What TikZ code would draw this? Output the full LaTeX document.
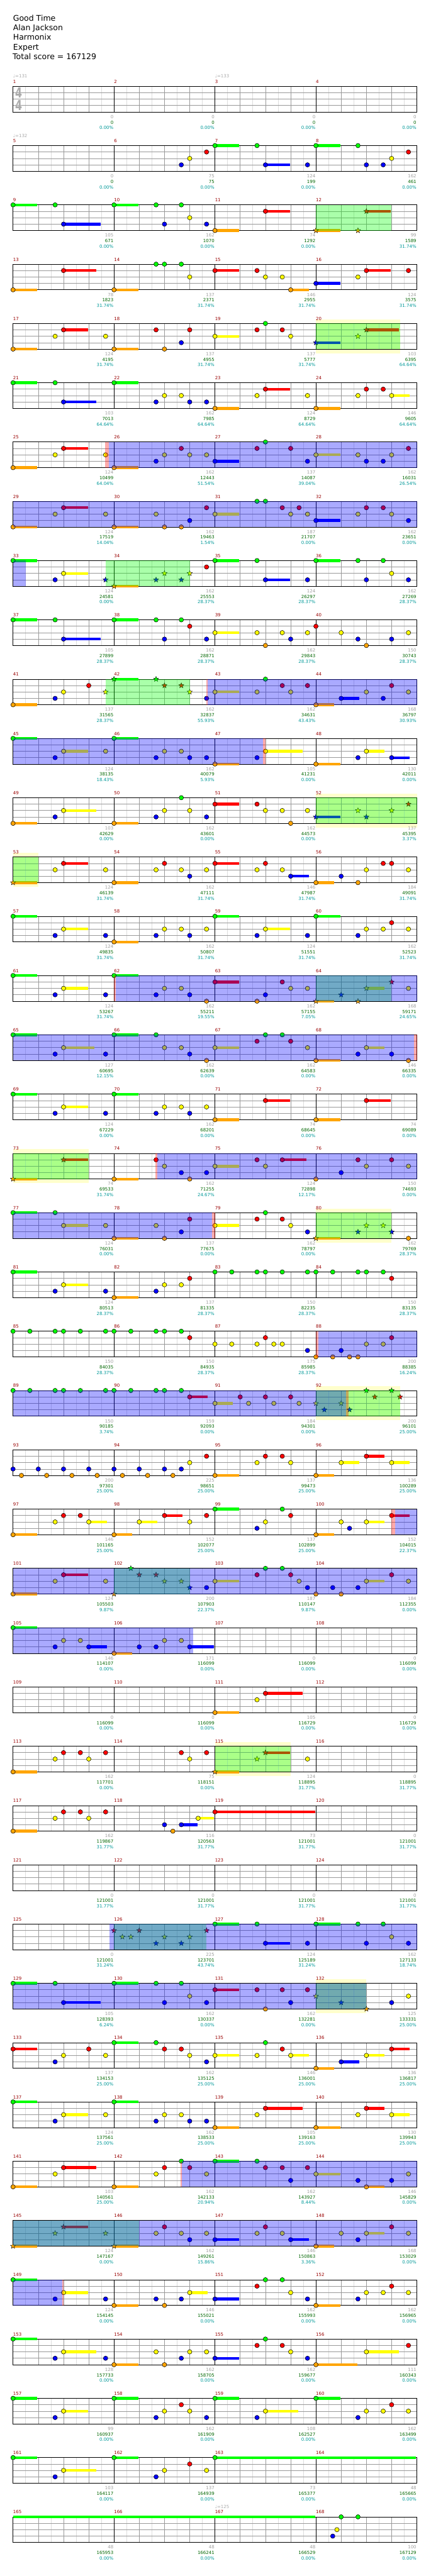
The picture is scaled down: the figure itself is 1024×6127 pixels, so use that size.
\documentclass[tikz,border=0pt]{standalone}
\usepackage{fontspec}
\usepackage{graphicx}
\setmainfont{DejaVu Sans}
\usetikzlibrary{shapes.geometric}

\definecolor{nG}{RGB}{0,255,0}
\definecolor{nR}{RGB}{255,0,0}
\definecolor{nY}{RGB}{255,255,0}
\definecolor{nB}{RGB}{0,0,255}
\definecolor{nO}{RGB}{255,165,0}
\definecolor{cMnum}{RGB}{153,0,0}
\definecolor{cCnt}{RGB}{160,160,160}
\definecolor{cScr}{RGB}{0,102,0}
\definecolor{cPct}{RGB}{0,153,153}
\definecolor{cGrid}{RGB}{153,153,153}
\definecolor{cSub}{RGB}{221,221,221}
\definecolor{cBand}{RGB}{255,255,204}

\def\laneG{0}\def\laneR{1}\def\laneY{2}\def\laneB{3}\def\laneO{4}

% measure #1, lane #2, beat #3 -> \px,\py
\newcommand\lanepos[3]{%
  \pgfmathtruncatemacro\rr{(#1-1)/4}%
  \pgfmathsetmacro\px{31+240*(#1-1-4*\rr)+60*#3}%
  \pgfmathsetmacro\py{205.3+141*\rr+15.25*\csname lane#2\endcsname}}
\newcommand\gnotes[2]{\foreach \nl/\nb/\ns in {#2}{\lanepos{#1}{\nl}{\nb}%
  \ifdim\ns pt>0pt \draw[sus,n\nl] (\px,\py) -- ++({60*\ns-2},0);\fi
  \draw[nh,fill=n\nl] (\px,\py) circle (5.3pt);}}
\newcommand\gstars[2]{\foreach \nl/\nb/\ns in {#2}{\lanepos{#1}{\nl}{\nb}%
  \ifdim\ns pt>0pt \draw[sus,n\nl] (\px,\py) -- ++({60*\ns-2},0);\fi
  \node[sp star,fill=n\nl] at (\px,\py) {};}}
\newcommand\susonly[4]{\lanepos{#1}{#2}{#3}%
  \draw[sus,n#2] (\px,\py) -- ++({60*#4-2},0);}
% row #1, beats #2 to #3 of the row, style #4
\newcommand\rowbox[4]{\pgfmathsetmacro\py{205.3+141*(#1-1)}%
  \fill[#4] ({31+60*#2},\py) rectangle ({31+60*#3},{\py+61});}
\newcommand\yband[3]{\pgfmathsetmacro\py{205.3+141*(#1-1)}%
  \fill[cBand] ({31+60*#2},{\py-10}) rectangle ({31+60*#3},{\py+71});}

\begin{document}
\begin{tikzpicture}[
    x=1pt, y=-1pt,
    nh/.style={draw=black, line width=0.8pt},
    sus/.style={line width=6.5pt},
    sp star/.style={star, star points=5, star point ratio=2.3, minimum size=13pt, inner sep=0pt, draw=black, line width=0.6pt},
    subgrid/.style={draw=cSub, line width=1pt},
    beatline/.style={draw=cGrid, line width=1pt},
    laneline/.style={draw=cGrid, line width=1pt},
    barline/.style={draw=black, line width=1pt},
    phr/.style={fill=nG, fill opacity=0.333},
    spw/.style={fill=nB, fill opacity=0.333},
    act/.style={fill=nR, fill opacity=0.333},
    head/.style={anchor=base west, inner sep=0pt, font=\fontsize{18.7}{22}\selectfont},
    mnum/.style={anchor=base west, inner sep=0pt, text=cMnum, font=\fontsize{10.5}{12}\selectfont},
    stat/.style={anchor=base east, inner sep=0pt, font=\fontsize{10.5}{12}\selectfont},
    tempo/.style={anchor=base west, inner sep=0pt, text=black!33, font=\fontsize{10.5}{12}\selectfont},
    tsig/.style={inner sep=0pt, text=black!33, font=\bfseries\fontsize{33}{33}\selectfont}
  ]
  \useasboundingbox (0,0) rectangle (1024,6127);
  \fill[white] (0,0) rectangle (1024,6127);

  \node[head] (title) at (31,49.5) {Good Time};
  \node[head] (artist) at (31,72.5) {Alan Jackson};
  \node[head] (charter) at (31,95.5) {Harmonix};
  \node[head] (diff) at (31,118.5) {Expert};
  \node[head] (total) at (30,141.5) {Total score = 167129};

  % bands under the staff
  \yband{5}{12}{15.333} \yband{13}{12}{16} \yband{14}{0}{1} \yband{19}{0}{3}
  \yband{20}{12}{15} \yband{23}{12}{15.333} \yband{29}{8}{11} \yband{33}{12}{14}

  % staves
  \foreach \r in {0,...,41}{
    \pgfmathsetmacro\py{205.3+141*\r}
    \foreach \k in {0,...,15} \draw[subgrid] ({61+60*\k},\py) -- ++(0,61);
    \foreach \k in {1,2,3,5,6,7,9,10,11,13,14,15} \draw[beatline] ({31+60*\k},\py) -- ++(0,61);
    \foreach \k in {1,2,3} \draw[laneline] (31,{\py+15.25*\k}) -- (991,{\py+15.25*\k});
    \foreach \k in {1,2,3} \draw[barline] ({31+240*\k},\py) -- ++(0,61);
    \draw[barline] (31,\py) rectangle (991,{\py+61});
  }
  \node[tsig] (ts1) at (44.5,220.6) {\scalebox{0.72}[1]{4}};
  \node[tsig] (ts2) at (44.5,250.6) {\scalebox{0.72}[1]{4}};

  % notes
  \gnotes{6}{B/2.667/0,Y/3/0,R/3.667/0}
  \gnotes{7}{G/0/1,G/1.667/0,B/2/1,B/3.667/0}
  \gnotes{8}{G/0/1,G/1.667/0,B/2/0,B/2.667/0,Y/3/0,R/3.667/0}
  \gnotes{9}{G/0/1,G/1.667/0,B/2/1.5}
  \gnotes{10}{G/0/1,G/1.667/0,B/2/0,G/2.667/0,Y/3/0,B/3.667/0}
  \gnotes{11}{O/0/1,R/2/1}
  \gstars{12}{O/0/1,O/1.667/0,R/2/1}
  \gnotes{13}{O/0/1,R/2/1.333}
  \gnotes{14}{O/0/1,G/1.667/0,G/2/0,G/2.667/0,Y/3/0}
  \gnotes{15}{R/0/1,R/1.667/0,Y/2/0,Y/2.667/0,O/3/0.75}
  \gnotes{16}{B/0/1,Y/1.667/0,R/2/1,R/3.667/0}
  \gnotes{17}{O/0/1,Y/1.667/0,R/2/1,Y/3.667/0}
  \gnotes{18}{O/0/1,R/1.667/0,O/2/0,B/2.667/0,R/3/0}
  \gnotes{19}{Y/0/1,R/1.667/0,G/2/0,R/2.667/0,Y/3/0}
  \gstars{20}{B/0/1,Y/1.667/0,R/2/1.333}
  \gnotes{21}{G/0/1,G/1.667/0,B/2/1.333}
  \gnotes{22}{G/0/1,B/1.667/0,Y/2/0,Y/2.667/0,B/3/0,B/3.667/0}
  \gnotes{23}{O/0/1,Y/1.667/0,R/2/1,Y/3.667/0}
  \gnotes{24}{O/0/1,Y/1.667/0,R/2/0,R/2.667/0,Y/3/0.75}
  \gnotes{25}{O/0/1,Y/1.667/0,R/2/1,Y/3.667/0}
  \gnotes{26}{O/0/1,B/1.667/0,Y/2/0,R/2.667/0,Y/3/0,Y/3.667/0}
  \gnotes{27}{B/0/1,R/1.667/0,G/2/0,R/3/0,B/3.667/0}
  \gnotes{28}{Y/0/1,Y/1.667/0,B/2/0,B/2.667/0,Y/3/0,R/3.667/0}
  \gnotes{29}{O/0/1,Y/1.667/0,R/2/1,Y/3.667/0}
  \gnotes{30}{O/0/1,Y/1.667/0,O/2/0,O/2.667/0,B/3/0,R/3.667/0}
  \gnotes{31}{Y/0/1,G/1.667/0,G/2/0,R/2.667/0,Y/3/0,R/3.333/0,Y/3.667/0}
  \gnotes{32}{B/0/1,Y/1.667/0,R/2/0,R/2.667/0,Y/3/0,B/3.667/0}
  \gnotes{33}{G/0/1,B/1.667/0,Y/2/1}
  \gstars{33}{B/3.667/0}
  \gstars{34}{O/0/1,B/1.667/0,Y/2/0,B/2.667/0,Y/3/0}
  \gnotes{34}{R/3.667/0}
  \gnotes{35}{G/0/1,G/1.667/0,B/2/1,B/3.667/0}
  \gnotes{36}{G/0/1,G/1.667/0,B/2/0,G/2.667/0,Y/3/0,B/3.667/0}
  \gnotes{37}{G/0/1,G/1.667/0,B/2/1.5}
  \gnotes{38}{G/0/1,G/1.667/0,B/2/0,G/2.667/0,R/3/0,B/3.667/0}
  \gnotes{39}{Y/0/1,Y/1.667/0,O/2/0,Y/2.667/0,B/3/0,Y/3.667/0}
  \gnotes{40}{R/0/0,Y/1/0,B/1.667/0,O/2/0,B/3/0,Y/3.667/0}
  \gnotes{41}{O/0/1,B/1.667/0,Y/2/0,R/3/0}
  \gstars{41}{Y/3.667/0}
  \gstars{42}{G/0/1,G/1.667/0,R/2/0,R/2.667/0,Y/3/0}
  \gnotes{42}{B/3.667/0}
  \gnotes{43}{Y/0/1,Y/1.667/0,G/2/0,R/2.667/0,Y/3/0,R/3.667/0}
  \gnotes{44}{O/0/0.75,B/1/0.75,Y/2/0,B/2.667/0,R/3/0,Y/3.667/0}
  \gnotes{45}{G/0/1,B/1.667/0,Y/2/1,Y/3.667/0}
  \gnotes{46}{G/0/1,B/1.667/0,Y/2/0,Y/2.667/0,B/3/0,B/3.667/0}
  \gnotes{47}{O/0/1,B/1.667/0,Y/2/1.5}
  \gnotes{48}{O/0/1,B/1.667/0,Y/2/0.75,B/3/0.75}
  \gnotes{49}{O/0/1,B/1.667/0,Y/2/1.333}
  \gnotes{50}{O/0/1,B/1.667/0,Y/2/0,G/2.667/0,Y/3/0,B/3.667/0}
  \gnotes{51}{R/0/1,R/1.667/0,Y/2/0,Y/2.667/0,O/3/0,Y/3.667/0}
  \gstars{52}{B/0/1,Y/1.667/0,B/2/0,Y/3/0,R/3.667/0}
  \gstars{53}{O/0/1}
  \gnotes{53}{Y/1.667/0,R/2/1,Y/3.667/0}
  \gnotes{54}{O/0/1,Y/1.667/0,R/2/0,Y/2.667/0,B/3/0,Y/3.667/0}
  \gnotes{55}{R/0/1,Y/1.667/0,R/2/0,Y/2.667/0,B/3/0.75}
  \gnotes{56}{O/0/0.75,B/1/0,O/1.667/0,Y/2/0,R/2.667/0,R/3/0,Y/3.667/0}
  \gnotes{57}{G/0/1,B/1.667/0,Y/2/1,B/3.667/0}
  \gnotes{58}{O/0/1,B/1.667/0,Y/2/0,Y/2.667/0,B/3/0,Y/3.667/0}
  \gnotes{59}{G/0/1,B/1.667/0,Y/2/1,B/3.667/0}
  \gnotes{60}{G/0/1,B/1.667/0,Y/2/0,Y/2.667/0,R/3/0,Y/3.667/0}
  \gnotes{61}{G/0/1,B/1.667/0,Y/2/1,B/3.667/0}
  \gnotes{62}{G/0/1,B/1.667/0,Y/2/0,Y/2.667/0,B/3/0,O/3.667/0}
  \gnotes{63}{R/0/1,O/1.667/0,B/2/0,R/2.667/0,Y/3/0,Y/3.667/0}
  \gstars{64}{O/0/0.75,B/1/0,O/1.667/0,Y/2/0.75,R/3/0}
  \gnotes{64}{Y/3.667/0}
  \gnotes{65}{G/0/1,B/1.667/0,Y/2/1.25,B/3.667/0}
  \gnotes{66}{G/0/1,G/1.667/0,Y/2/0,Y/2.667/0,B/3/0,O/3.667/0}
  \gnotes{67}{Y/0/1,R/1.667/0,G/2/0,G/2.667/0,R/3/0,Y/3.667/0}
  \gnotes{68}{O/0/1,B/1.667/0,Y/2/0.75,B/3/0,O/3.667/0}
  \gnotes{69}{G/0/1,B/1.667/0,Y/2/1,B/3.667/0}
  \gnotes{70}{G/0/1,B/1.667/0,Y/2/0,Y/2.667/0,B/3/0,Y/3.667/0}
  \gnotes{71}{O/0/1,R/2/1}
  \gnotes{72}{O/0/1,R/2/1}
  \gstars{73}{O/0/1,R/2/1}
  \gnotes{74}{O/0/1,R/1.667/0,Y/2/0,B/2.667/0,O/3/0,B/3.667/0}
  \gnotes{75}{Y/0/1,R/1.667/0,Y/2/0,R/2.667/1}
  \gnotes{76}{O/0/0,B/1/0,R/1.667/0,Y/2/0,R/3/0,Y/3.667/0}
  \gnotes{77}{G/0/1,G/1.667/0,Y/2/1,Y/3.667/0}
  \gnotes{78}{O/0/1,Y/1.667/0,O/2/0,B/2.667/0,R/3/0}
  \gnotes{79}{Y/0/1,R/1.667/0,G/2/0,R/2.667/0,Y/3/0,B/3.667/0}
  \gstars{80}{O/0/1,B/1.667/0,Y/2/0,Y/2.667/0,B/3/0}
  \gnotes{80}{O/3.667/0}
  \gnotes{81}{G/0/1,B/1.667/0,Y/2/1,B/3.667/0}
  \gnotes{82}{O/0/1,B/1.667/0,Y/2/0,Y/2.667/0,R/3/0}
  \gnotes{83}{G/0/0,G/0.667/0,G/1.667/0,G/2/0,G/2.667/0,G/3.667/0}
  \gnotes{84}{G/0/0,G/0.667/0,G/1.667/0,G/2/0,G/2.667/0,R/3/0}
  \gnotes{85}{G/0/0,G/0.667/0,G/1.667/0,G/2/0,G/2.667/0,G/3.667/0}
  \gnotes{86}{G/0/0,G/0.667/0,G/1.667/0,G/2/0,G/2.667/0,R/3/0}
  \gnotes{87}{Y/0/0,Y/0.667/0,Y/1.667/0,R/2/0,Y/2.333/0,Y/2.667/0,B/3.667/0}
  \gnotes{88}{O/0/0,O/0.667/0,B/1/0,O/1.333/0,O/1.667/0,Y/2/0,Y/2.667/0,R/3/0}
  \gnotes{89}{G/0/0,G/0.667/0,G/1.667/0,G/2/0,G/2.667/0,G/3.667/0}
  \gnotes{90}{G/0/0,G/0.667/0,G/1.667/0,G/2/0,G/2.667/0,R/3/0.75}
  \gnotes{91}{Y/0/0.75,R/1/0,Y/1.333/0,R/2/0,Y/2.333/0,R/3/0,Y/3.333/0}
  \gstars{92}{Y/0/0,B/0.333/0,Y/1/0,B/1.333/0,G/2/0,R/2.333/0,G/3/0,R/3.333/0}
  \gnotes{93}{B/0/0,O/0.333/0,B/1/0,O/1.333/0,B/2/0,O/2.333/0,B/3/0,O/3.333/0}
  \gnotes{94}{B/0/0,O/0.333/0,B/1/0,O/1.333/0,B/2/0,O/2.333/0,B/2.667/0,Y/3/0,R/3.667/0}
  \gnotes{95}{O/0/1,Y/1.667/0,R/2/0,R/2.667/0,Y/3/0}
  \gnotes{96}{O/0/0.75,Y/1/0.75,R/2/0.75,Y/3/0.75}
  \gnotes{97}{O/0/1,Y/1.667/0,R/2/0,R/2.667/0,Y/3/0.75}
  \gnotes{98}{O/0/0.75,Y/1/0.75,R/2/0.75,Y/3/0,R/3.667/0}
  \gnotes{99}{G/0/1,B/1.667/0,Y/2/0,G/2.667/0,R/3/0}
  \gnotes{100}{O/0/0.75,Y/1/0,B/1.333/0,Y/2/0.75,R/3/0.75}
  \gnotes{101}{O/0/1,Y/1.667/0,R/2/1,Y/3.667/0}
  \gstars{102}{O/0/0,G/0.667/0,R/1/0,R/1.667/0,Y/2/0,Y/2.667/0,B/3/0}
  \gnotes{102}{B/3.667/0}
  \gnotes{103}{Y/0/1,R/1.667/0,G/2/0,G/2.667/0,R/3/0,Y/3.333/0,B/3.667/0}
  \gnotes{104}{O/0/0,B/0.667/0,O/1/0,B/1.667/0,Y/2/0.75,R/3/0,Y/3.667/0}
  \gnotes{105}{G/0/1,B/1.667/0,Y/2/0,Y/2.667/0,B/3/0.75}
  \gnotes{106}{O/0/0.75,B/1/0,B/1.667/0,Y/2/0,Y/2.667/0,B/3/1}
  \gnotes{111}{O/0/1,Y/1.667/0,R/2/1.5}
  \gnotes{113}{O/0/1,Y/1.667/0,R/2/0,R/2.667/0,Y/3/0,R/3.667/0}
  \gnotes{114}{R/2.667/0,Y/3/0,R/3.667/0}
  \gstars{115}{O/0/1,Y/1.667/0,R/2/1}
  \gnotes{115}{Y/3.667/0}
  \gnotes{117}{O/0/1,Y/1.667/0,R/2/0,R/2.667/0,Y/3/0,R/3.667/0}
  \gnotes{118}{B/2/0,O/2.333/0,B/2.667/0.667,Y/3.333/0.667}
  \gnotes{119}{R/0/4}
  \gstars{126}{R/0/0,Y/0.333/0,Y/0.667/0,R/1/0,B/1.667/0,Y/2/0,B/2.667/0,Y/3/0,R/3.667/0}
  \gnotes{127}{G/0/1,G/1.667/0,B/2/1,B/3.667/0}
  \gnotes{128}{G/0/1,G/1.667/0,B/2/0,G/2.667/0,Y/3/0,B/3.667/0}
  \gnotes{129}{G/0/1,G/1.667/0,B/2/1.5}
  \gnotes{130}{G/0/1,G/1.667/0,B/2/0,G/2.667/0,Y/3/0,B/3.667/0}
  \gnotes{131}{R/0/1,R/1.667/0,O/2/0,R/2.667/0,B/3/0,R/3.667/0}
  \gstars{132}{Y/0/0,B/1/0,O/2/0}
  \gnotes{132}{B/3/0,Y/3.667/0}
  \gnotes{133}{R/0/1,B/1.667/0,Y/2/0,R/3/0,Y/3.667/0}
  \gnotes{134}{G/0/1,G/1.667/0,R/2/0,R/2.667/0,Y/3/0,B/3.667/0}
  \gnotes{135}{Y/0/1,Y/1.667/0,G/2/0,R/2.667/0,Y/3/0.75}
  \gnotes{136}{O/0/0.75,B/1/0.75,Y/2/0.75,R/3/0.75}
  \gnotes{137}{G/0/1,B/1.667/0,Y/2/1,Y/3.667/0}
  \gnotes{138}{G/0/1,B/1.667/0,Y/2/0,Y/2.667/0,B/3/0,B/3.667/0}
  \gnotes{139}{O/0/1,Y/1.667/0,R/2/1.5}
  \gnotes{140}{O/0/1,Y/1.667/0,R/2/0.75,Y/3/0.75}
  \gnotes{141}{O/0/1,Y/1.667/0,R/2/1.333}
  \gnotes{142}{O/0/1,Y/1.667/0,R/2/0,G/2.667/0,R/3/0,Y/3.667/0}
  \gnotes{143}{G/0/1,G/1.667/0,R/2/0,R/2.667/0,B/3/0,R/3.667/0}
  \gnotes{144}{Y/0/1,B/1.667/0,O/2/0.75,B/3/0,Y/3.667/0}
  \gstars{145}{O/0/1,Y/1.667/0,R/2/1,Y/3.667/0}
  \gstars{146}{O/0/1}
  \gnotes{146}{Y/1.667/0,R/2/0,Y/2.667/0,B/3/0,Y/3.667/0}
  \gnotes{147}{B/0/1,Y/1.667/0,R/2/0,Y/2.667/0,B/3/0.75}
  \gnotes{148}{O/0/0.75,Y/1/0,B/1.667/0,Y/2/0.75,R/3/0,Y/3.667/0}
  \gnotes{149}{G/0/1,B/1.667/0,Y/2/1,B/3.667/0}
  \gnotes{150}{O/0/1,B/1.667/0,O/2/0,B/2.667/0,Y/3/0.75}
  \gnotes{151}{B/0/1,R/1.667/0,G/2/0,G/2.667/0,Y/3/0,B/3.667/0}
  \gnotes{152}{O/0/1,B/1.667/0,Y/2/0,Y/2.667/0,R/3/0,Y/3.667/0}
  \gnotes{153}{G/0/1,B/1.667/0,Y/2/1.333,B/3.667/0}
  \gnotes{154}{O/0/1,Y/1.667/0,O/2/0,B/2.667/0,Y/3/0,Y/3.667/0}
  \gnotes{155}{B/0/1,R/1.667/0,G/2/0,R/2.667/0,Y/3/0,B/3.667/0}
  \gnotes{156}{O/0/1.667,Y/2/1.333,R/3.667/0}
  \gnotes{157}{G/0/1,B/1.667/0,Y/2/1}
  \gnotes{158}{G/0/1,B/1.667/0,Y/2/0,R/2.667/0,Y/3/0,B/3.667/0}
  \gnotes{159}{G/0/1,B/1.667/0,Y/2/1.333}
  \gnotes{160}{G/0/1,B/1.667/0,Y/2/0,Y/2.667/0,R/3/0,Y/3.667/0}
  \gnotes{161}{G/0/1,B/1.667/0,Y/2/1.333}
  \gnotes{162}{G/0/1,B/1.667/0,Y/2/0,R/3/0,Y/3.667/0}
  \gnotes{163}{G/0/8}
  \susonly{165}{G}{0}{12}
  \gnotes{168}{B/0.667/0,Y/0.833/0,G/1/0,G/1.667/0}

  % star phrases
  \rowbox{3}{12}{15}{phr} \rowbox{5}{12}{15.333}{phr} \rowbox{9}{3.667}{7}{phr}
  \rowbox{11}{3.667}{7}{phr} \rowbox{13}{12}{16}{phr} \rowbox{14}{0}{1}{phr}
  \rowbox{16}{12}{15}{phr} \rowbox{19}{0}{3}{phr} \rowbox{20}{12}{15}{phr}
  \rowbox{23}{12}{15.333}{phr} \rowbox{26}{4}{7}{phr} \rowbox{29}{8}{11}{phr}
  \rowbox{32}{4}{7.65}{phr} \rowbox{33}{12}{14}{phr} \rowbox{37}{0}{5}{phr}
  % star power
  \rowbox{7}{3.8}{16}{spw} \rowbox{8}{0}{16}{spw} \rowbox{9}{0}{0.5}{spw}
  \rowbox{11}{7.7}{16}{spw} \rowbox{12}{0}{9.9}{spw}
  \rowbox{16}{4.08}{16}{spw} \rowbox{17}{0}{15.88}{spw}
  \rowbox{19}{5.72}{16}{spw} \rowbox{20}{0}{7.88}{spw}
  \rowbox{22}{12.1}{16}{spw} \rowbox{23}{0}{13.2}{spw}
  \rowbox{25}{15.14}{16}{spw} \rowbox{26}{0}{16}{spw} \rowbox{27}{0}{7.13}{spw}
  \rowbox{32}{3.82}{16}{spw} \rowbox{33}{0}{14}{spw}
  \rowbox{36}{6.7}{16}{spw} \rowbox{37}{0}{16}{spw} \rowbox{38}{0}{1.96}{spw}
  \rowbox{7}{3.65}{3.8}{act} \rowbox{11}{7.65}{7.7}{act} \rowbox{12}{9.9}{10}{act}
  \rowbox{16}{4}{4.08}{act} \rowbox{17}{15.88}{16}{act} \rowbox{19}{5.65}{5.72}{act}
  \rowbox{20}{7.88}{8}{act} \rowbox{22}{12}{12.1}{act} \rowbox{23}{13.2}{13.3}{act}
  \rowbox{25}{15}{15.14}{act} \rowbox{36}{6.65}{6.7}{act} \rowbox{38}{1.96}{2}{act}

  % tempo marks
  \node[tempo] (bpm1) at (31,185.3) {♩=131};
  \node[tempo] (bpm3) at (511,185.3) {♩=133};
  \node[tempo] (bpm5) at (31,326.3) {♩=132};
  \node[tempo] (bpm167) at (511,5966.3) {♩=125};

  % measure numbers and scores
  \foreach \vm/\vcnt/\vscr/\vpct in {
    1/0/0/0.00,2/0/0/0.00,3/0/0/0.00,4/0/0/0.00,5/0/0/0.00,6/75/75/0.00,7/124/199/0.00,8/162/461/0.00,
    9/105/671/0.00,10/162/1070/0.00,11/74/1292/0.00,12/99/1589/31.74,
    13/78/1823/31.74,14/137/2371/31.74,15/146/2955/31.74,16/124/3575/31.74,
    17/124/4195/31.74,18/137/4955/31.74,19/137/5777/31.74,20/103/6395/64.64,
    21/103/7013/64.64,22/162/7985/64.64,23/124/8729/64.64,24/146/9605/64.64,
    25/124/10499/64.04,26/162/12443/51.54,27/137/14087/39.04,28/162/16031/26.54,
    29/124/17519/14.04,30/162/19463/1.54,31/187/21707/0.00,32/162/23651/0.00,
    33/124/24581/0.00,34/162/25553/28.37,35/124/26297/28.37,36/162/27269/28.37,
    37/105/27899/28.37,38/162/28871/28.37,39/162/29843/28.37,40/150/30743/28.37,
    41/137/31565/28.37,42/162/32837/55.93,43/162/34631/43.43,44/168/36797/30.93,
    45/124/38135/18.43,46/162/40079/5.93,47/105/41231/0.00,48/130/42011/0.00,
    49/103/42629/0.00,50/162/43601/0.00,51/162/44573/0.00,52/137/45395/3.37,
    53/124/46139/31.74,54/162/47111/31.74,55/146/47987/31.74,56/184/49091/31.74,
    57/124/49835/31.74,58/162/50807/31.74,59/124/51551/31.74,60/162/52523/31.74,
    61/124/53267/31.74,62/162/55211/19.55,63/162/57155/7.05,64/168/59171/24.65,
    65/127/60695/12.15,66/162/62639/0.00,67/162/64583/0.00,68/146/66335/0.00,
    69/124/67229/0.00,70/162/68201/0.00,71/74/68645/0.00,72/74/69089/0.00,
    73/74/69533/31.74,74/162/71255/24.67,75/124/72898/12.17,76/150/74693/0.00,
    77/124/76031/0.00,78/137/77675/0.00,79/162/78797/0.00,80/162/79769/28.37,
    81/124/80513/28.37,82/137/81335/28.37,83/150/82235/28.37,84/150/83135/28.37,
    85/150/84035/28.37,86/150/84935/28.37,87/175/85985/28.37,88/200/88385/16.24,
    89/150/90185/3.74,90/159/92093/0.00,91/184/94301/0.00,92/200/96101/25.00,
    93/200/97301/25.00,94/225/98651/25.00,95/137/99473/25.00,96/136/100289/25.00,
    97/146/101165/25.00,98/152/102077/25.00,99/137/102899/25.00,100/152/104015/22.37,
    101/124/105503/9.87,102/200/107903/22.37,103/187/110147/9.87,104/184/112355/0.00,
    105/146/114107/0.00,106/171/116099/0.00,107/0/116099/0.00,108/0/116099/0.00,
    109/0/116099/0.00,110/0/116099/0.00,111/105/116729/0.00,112/0/116729/0.00,
    113/162/117701/0.00,114/75/118151/0.00,115/124/118895/31.77,116/0/118895/31.77,
    117/162/119867/31.77,118/116/120563/31.77,119/73/121001/31.77,120/0/121001/31.77,
    121/0/121001/31.77,122/0/121001/31.77,123/0/121001/31.77,124/0/121001/31.77,
    125/0/121001/31.24,126/225/123701/43.74,127/124/125189/31.24,128/162/127133/18.74,
    129/105/128393/6.24,130/162/130337/0.00,131/162/132281/0.00,132/125/133331/25.00,
    133/137/134153/25.00,134/162/135125/25.00,135/146/136001/25.00,136/136/136817/25.00,
    137/124/137561/25.00,138/162/138533/25.00,139/105/139163/25.00,140/130/139943/25.00,
    141/103/140561/25.00,142/162/142133/20.94,143/162/143927/8.44,144/146/145829/0.00,
    145/124/147167/0.00,146/162/149261/15.86,147/146/150863/3.36,148/168/153029/0.00,
    149/124/154145/0.00,150/146/155021/0.00,151/162/155993/0.00,152/162/156965/0.00,
    153/128/157733/0.00,154/162/158705/0.00,155/162/159677/0.00,156/111/160343/0.00,
    157/99/160937/0.00,158/162/161909/0.00,159/108/162527/0.00,160/162/163499/0.00,
    161/103/164117/0.00,162/137/164939/0.00,163/73/165377/0.00,164/48/165665/0.00,
    165/48/165953/0.00,166/48/166241/0.00,167/48/166529/0.00,168/100/167129/0.00}{
    \pgfmathtruncatemacro\rr{(\vm-1)/4}
    \pgfmathsetmacro\xa{31+240*(\vm-1-4*\rr)}
    \pgfmathsetmacro\py{205.3+141*\rr}
    \node[mnum] (m\vm) at (\xa,{\py-7.5}) {\vm};
    \node[stat, text=cCnt] (c\vm) at ({\xa+239},{\py+76.3}) {\vcnt};
    \node[stat, text=cScr] (s\vm) at ({\xa+239},{\py+89.5}) {\vscr};
    \node[stat, text=cPct] (p\vm) at ({\xa+239},{\py+102.5}) {\vpct\%};
  }
\end{tikzpicture}
\end{document}
